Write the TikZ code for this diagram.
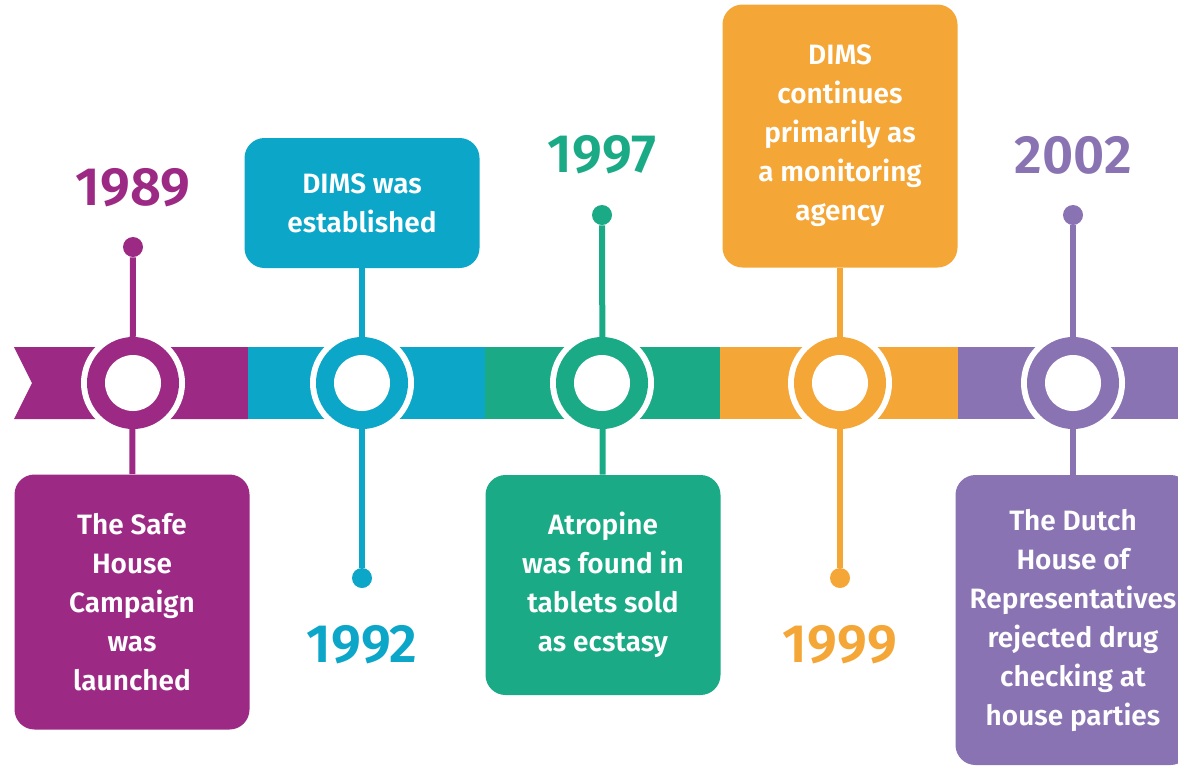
\documentclass[tikz,border=0pt]{standalone}
\usepackage{fontspec}
\setmainfont{Fira Sans}[BoldFont=* SemiBold]
\definecolor{plum}{HTML}{9C2A84}
\definecolor{teal}{HTML}{0BA6C8}
\definecolor{jade}{HTML}{1BAA86}
\definecolor{amber}{HTML}{F4A637}
\definecolor{lilac}{HTML}{8A73B3}
\tikzset{
  eventbox/.style={rounded corners=10pt, minimum width=117.5pt, inner sep=0pt,
    text=white, align=center, font=\bfseries\fontsize{14}{19.5}\selectfont},
  yearlabel/.style={font=\bfseries\fontsize{27}{30}\selectfont},
  enddot/.style={circle, inner sep=0pt, minimum size=10pt},
  ringgap/.style={circle, fill=white, inner sep=0pt, minimum size=52pt},
  stem/.style={line width=3pt},
}
\begin{document}
\begin{tikzpicture}[x=0.5pt,y=-0.5pt]
  \useasboundingbox (0,0) rectangle (1178,768);
  \clip (0,0) rectangle (1178,768);
  % timeline band
  \fill[plum] (14,347) -- (32,383) -- (14,419) -- (248,419) -- (248,347) -- cycle;
  \fill[teal] (248,347) rectangle (485,419);
  \fill[jade] (485,347) rectangle (720,419);
  \fill[amber] (720,347) rectangle (958,419);
  \fill[lilac] (958,347) rectangle (1178,419);
  % rings
  \node[ringgap] (r89) at (133,383) {};
  \node[ringgap] (r92) at (362,383) {};
  \node[ringgap] (r97) at (602,383) {};
  \node[ringgap] (r99) at (840,383) {};
  \node[ringgap] (r02) at (1073,383) {};
  % events
  \node[eventbox, fill=plum, minimum height=127.5pt] (b89) at (132,602)
    {The Safe\\House\\Campaign\\was\\launched};
  \node[eventbox, fill=teal, minimum height=65pt] (b92) at (362,203)
    {DIMS was\\established};
  \node[eventbox, fill=jade, minimum height=110pt] (b97) at (603,585)
    {Atropine\\was found in\\tablets sold\\as ecstasy};
  \node[eventbox, fill=amber, minimum height=131.5pt] (b99) at (840,136)
    {DIMS\\continues\\primarily as\\a monitoring\\agency};
  \node[eventbox, fill=lilac, minimum height=145pt] (b02) at (1073,620)
    {The Dutch\\House of\\Representatives\\rejected drug\\checking at\\house parties};
  % dots and years
  \node[enddot, fill=plum] (d89) at (133,247) {};
  \node[enddot, fill=teal] (d92) at (362,578) {};
  \node[enddot, fill=jade] (d97) at (602,215) {};
  \node[enddot, fill=amber] (d99) at (840,578) {};
  \node[enddot, fill=lilac] (d02) at (1073,215) {};
  \node[yearlabel, text=plum] (y89) at (133,188) {1989};
  \node[yearlabel, text=teal] (y92) at (362,645) {1992};
  \node[yearlabel, text=jade] (y97) at (602,155) {1997};
  \node[yearlabel, text=amber] (y99) at (840,645) {1999};
  \node[yearlabel, text=lilac] (y02) at (1073,155) {2002};
  % stems
  \draw[stem, plum] (d89) -- (b89);
  \draw[stem, teal] (b92) -- (d92);
  \draw[stem, jade] (d97) -- (b97);
  \draw[stem, amber] (b99) -- (d99);
  \draw[stem, lilac] (d02) -- (b02);
  % ring faces
  \fill[plum] (r89) circle (23pt);
  \fill[teal] (r92) circle (23pt);
  \fill[jade] (r97) circle (23pt);
  \fill[amber] (r99) circle (23pt);
  \fill[lilac] (r02) circle (23pt);
  \foreach \r in {r89,r92,r97,r99,r02}
    \fill[white] (\r) circle (14pt);
\end{tikzpicture}
\end{document}
